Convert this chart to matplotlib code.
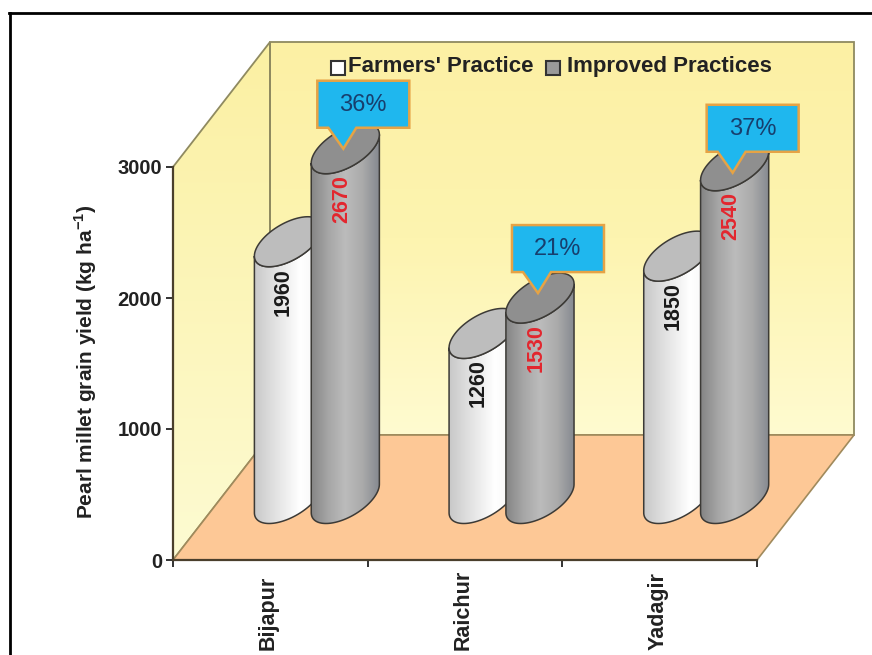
import numpy as np
import matplotlib.pyplot as plt
from matplotlib.patches import Polygon, Rectangle
from matplotlib.colors import LinearSegmentedColormap
from matplotlib.lines import Line2D

plt.rcParams['font.family'] = ['Liberation Sans', 'DejaVu Sans']
plt.rcParams['mathtext.fontset'] = 'custom'
plt.rcParams['mathtext.bf'] = 'Liberation Sans:bold'

districts = ['Bijapur', 'Raichur', 'Yadagir']
farmers_practice = [1960, 1260, 1850]
improved_practices = [2670, 1530, 2540]
increase_labels = ['36%', '21%', '37%']
yield_ticks = [0, 1000, 2000, 3000]

W, H = 872, 655
# front plane of the 3d box, in pixels
LEFT, RIGHT, BOTTOM, TOP = 173, 757, 560, 167
PX = 3 / (RIGHT - LEFT)       # category units per pixel
PY = 3000 / (BOTTOM - TOP)    # yield units per pixel
DX, DY = 97 * PX, 125 * PY    # depth of the box
GROUP_CENTRE, BAR_OFFSET = 0.49, 0.146
HALF_W, HALF_D = 28 * PX, 0.2
CALLOUT_SHIFT = [0, 5, -7]    # pixels up from the bar top

fig = plt.figure(figsize=(W / 100, H / 100), dpi=100, facecolor='white')
ax = fig.add_axes([LEFT / W, 1 - BOTTOM / H, (RIGHT - LEFT) / W, (BOTTOM - TOP) / H])
ax.patch.set_alpha(0)


def gradient(colors, extent, path_patch, horizontal=True, z=1):
    cmap = LinearSegmentedColormap.from_list('g', colors)
    vals = np.linspace(0, 1, 256)
    arr = vals[None, :] if horizontal else vals[:, None]
    im = ax.imshow(arr, cmap=cmap, extent=extent, origin='lower', aspect='auto',
                   zorder=z, interpolation='bilinear')
    # images stop at the axes box unless given a wider clip box
    im.set_clip_box(fig.bbox)
    im.set_clip_path(path_patch)
    return im


def draw_walls():
    edge = '#8f8a60'
    left_pts = [(0, 0), (0, 3000), (DX, 3000 + DY), (DX, DY)]
    back_pts = [(DX, DY), (DX, 3000 + DY), (3 + DX, 3000 + DY), (3 + DX, DY)]
    floor_pts = [(0, 0), (3, 0), (3 + DX, DY), (DX, DY)]

    left = Polygon(left_pts, closed=True, fc='none', ec='none', clip_on=False)
    ax.add_patch(left)
    gradient(['#fdfbd2', '#fbf0a2'], (0, DX, 0, 3000 + DY), left, horizontal=False)

    back = Polygon(back_pts, closed=True, fc='none', ec='none', clip_on=False)
    ax.add_patch(back)
    gradient(['#fffbd0', '#fdf4b0', '#fcf0a4'], (DX, 3 + DX, DY, 3000 + DY), back, horizontal=False)

    ax.add_patch(Polygon(floor_pts, closed=True, fc='#fdc896', ec='#a08a5c', lw=1.2,
                         clip_on=False, zorder=1.5))
    for pts in (left_pts, back_pts):
        ax.add_patch(Polygon(pts, closed=True, fc='none', ec=edge, lw=1.3,
                             clip_on=False, zorder=1.4))


def ellipse_arc(cx, base, start, stop, n=60):
    t = np.linspace(start, stop, n)
    x = cx + HALF_W * np.cos(t) + HALF_D * DX * np.sin(t)
    y = base + HALF_D * DY * np.sin(t)
    return np.column_stack([x, y])


def draw_cylinder(front_x, value, body_colors, top_color, z):
    # the base sits half way into the box depth
    cx = front_x + DX / 2
    y0 = DY / 2 - 1 * PY
    t0 = np.arctan2(HALF_D * DX, HALF_W)
    lower = ellipse_arc(cx, y0, t0 + np.pi, t0 + 2 * np.pi)
    upper = ellipse_arc(cx, y0 + value, t0 + np.pi, t0 + 2 * np.pi)
    body_pts = np.vstack([lower, upper[::-1]])
    body = Polygon(body_pts, closed=True, fc='none', ec='none', clip_on=False, zorder=z)
    ax.add_patch(body)
    gradient(body_colors, (lower[0, 0], lower[-1, 0], y0 - 500, y0 + value + 500), body, z=z)
    ax.add_patch(Polygon(body_pts, closed=True, fc='none', ec='#3c3a36', lw=1.1,
                         clip_on=False, zorder=z + 0.1))
    cap = ellipse_arc(cx, y0 + value, 0, 2 * np.pi, 120)
    ax.add_patch(Polygon(cap, closed=True, fc=top_color, ec='#3c3a36', lw=1.1,
                         clip_on=False, zorder=z + 0.2))
    return cx, y0 + value


def draw_callout(cx, top, text, shift, z):
    tip_x, tip_y = cx - 2 * PX, top + shift * PY
    pts = [(tip_x - 26 * PX, tip_y + 21 * PY), (tip_x - 26 * PX, tip_y + 68 * PY),
           (tip_x + 66 * PX, tip_y + 68 * PY), (tip_x + 66 * PX, tip_y + 21 * PY),
           (tip_x + 13 * PX, tip_y + 21 * PY), (tip_x, tip_y),
           (tip_x - 15 * PX, tip_y + 21 * PY)]
    ax.add_patch(Polygon(pts, closed=True, fc='#1fb7ee', ec='#e6a345', lw=1.8,
                         clip_on=False, zorder=z))
    ax.text(tip_x + 20 * PX, tip_y + 44 * PY, text, color='#173f6e', fontsize=17,
            ha='center', va='center', zorder=z + 0.1)


draw_walls()

white_body = ['#c8c8c8', '#e4e4e4', '#ffffff', '#f4f4f4']
grey_body = ['#858585', '#a6a6a6', '#bcbcbc', '#aaaaaa', '#84888f']

for i in range(len(districts)):
    x1 = i + GROUP_CENTRE - BAR_OFFSET
    x2 = i + GROUP_CENTRE + BAR_OFFSET
    c1, top1 = draw_cylinder(x1, farmers_practice[i], white_body, '#bdbdbd', 3 + i)
    c2, top2 = draw_cylinder(x2, improved_practices[i], grey_body, '#8f8f8f', 3.5 + i)
    ax.text(c1 - 5 * PX, top1 - 50 * PY, str(farmers_practice[i]), rotation=90, fontsize=15.5,
            fontweight='bold', color='#1a1a1a', ha='center', va='center', zorder=8)
    ax.text(c2 - 4 * PX, top2 - 50 * PY, str(improved_practices[i]), rotation=90, fontsize=15.5,
            fontweight='bold', color='#e3262e', ha='center', va='center', zorder=8)
    draw_callout(c2, top2, increase_labels[i], CALLOUT_SHIFT[i], 9)

ax.set_xlim(0, 3)
ax.set_ylim(0, 3000)

# axes lines and ticks
for s in ('top', 'right'):
    ax.spines[s].set_visible(False)
for s in ('left', 'bottom'):
    ax.spines[s].set_color('#4a3f2c')
    ax.spines[s].set_linewidth(1.6)
    ax.spines[s].set_zorder(2)
ax.set_yticks(yield_ticks)
ax.set_yticklabels(yield_ticks, fontweight='bold', fontsize=14.5, color='#222222')
ax.set_xticks([0, 1, 2, 3])
ax.set_xticklabels([])
ax.tick_params(axis='both', length=5, width=1.4, color='#333333', pad=3)
ax.set_ylabel('Pearl millet grain yield (kg ha$^{\\mathbf{-1}}$)', fontweight='bold',
              fontsize=15, color='#222222')
ax.yaxis.set_label_coords(-74 / (RIGHT - LEFT), 198 / (BOTTOM - TOP))

# category names, rotated under the axis and aligned at their lower end
for i, name in enumerate(districts):
    ax.annotate(name, xy=(i + 0.49, 0), xytext=(0, -90 * 0.72), textcoords='offset points',
                rotation=90, ha='center', va='bottom', fontweight='bold', fontsize=15.5,
                color='#222222', annotation_clip=False)

# legend above the bars
fig.add_artist(Rectangle((331 / W, 1 - 75 / H), 14 / W, 14 / H, transform=fig.transFigure,
                         fc='white', ec='#333333', lw=1.5))
fig.add_artist(Rectangle((546 / W, 1 - 75 / H), 14 / W, 14 / H, transform=fig.transFigure,
                         fc='#9a9a9a', ec='#333333', lw=1.5))
fig.text(348 / W, 1 - 72 / H, "Farmers' Practice", fontweight='bold', fontsize=16,
         color='#222222', va='baseline')
fig.text(567 / W, 1 - 72 / H, 'Improved Practices', fontweight='bold', fontsize=16,
         color='#222222', va='baseline')

# frame on the left and top of the figure
fig.add_artist(Line2D([10 / W, 10 / W], [0, 1 - 13 / H], color='black', lw=2, transform=fig.transFigure))
fig.add_artist(Line2D([9 / W, 1], [1 - 13 / H, 1 - 13 / H], color='black', lw=2, transform=fig.transFigure))

fig.savefig('out.png', dpi=100)
